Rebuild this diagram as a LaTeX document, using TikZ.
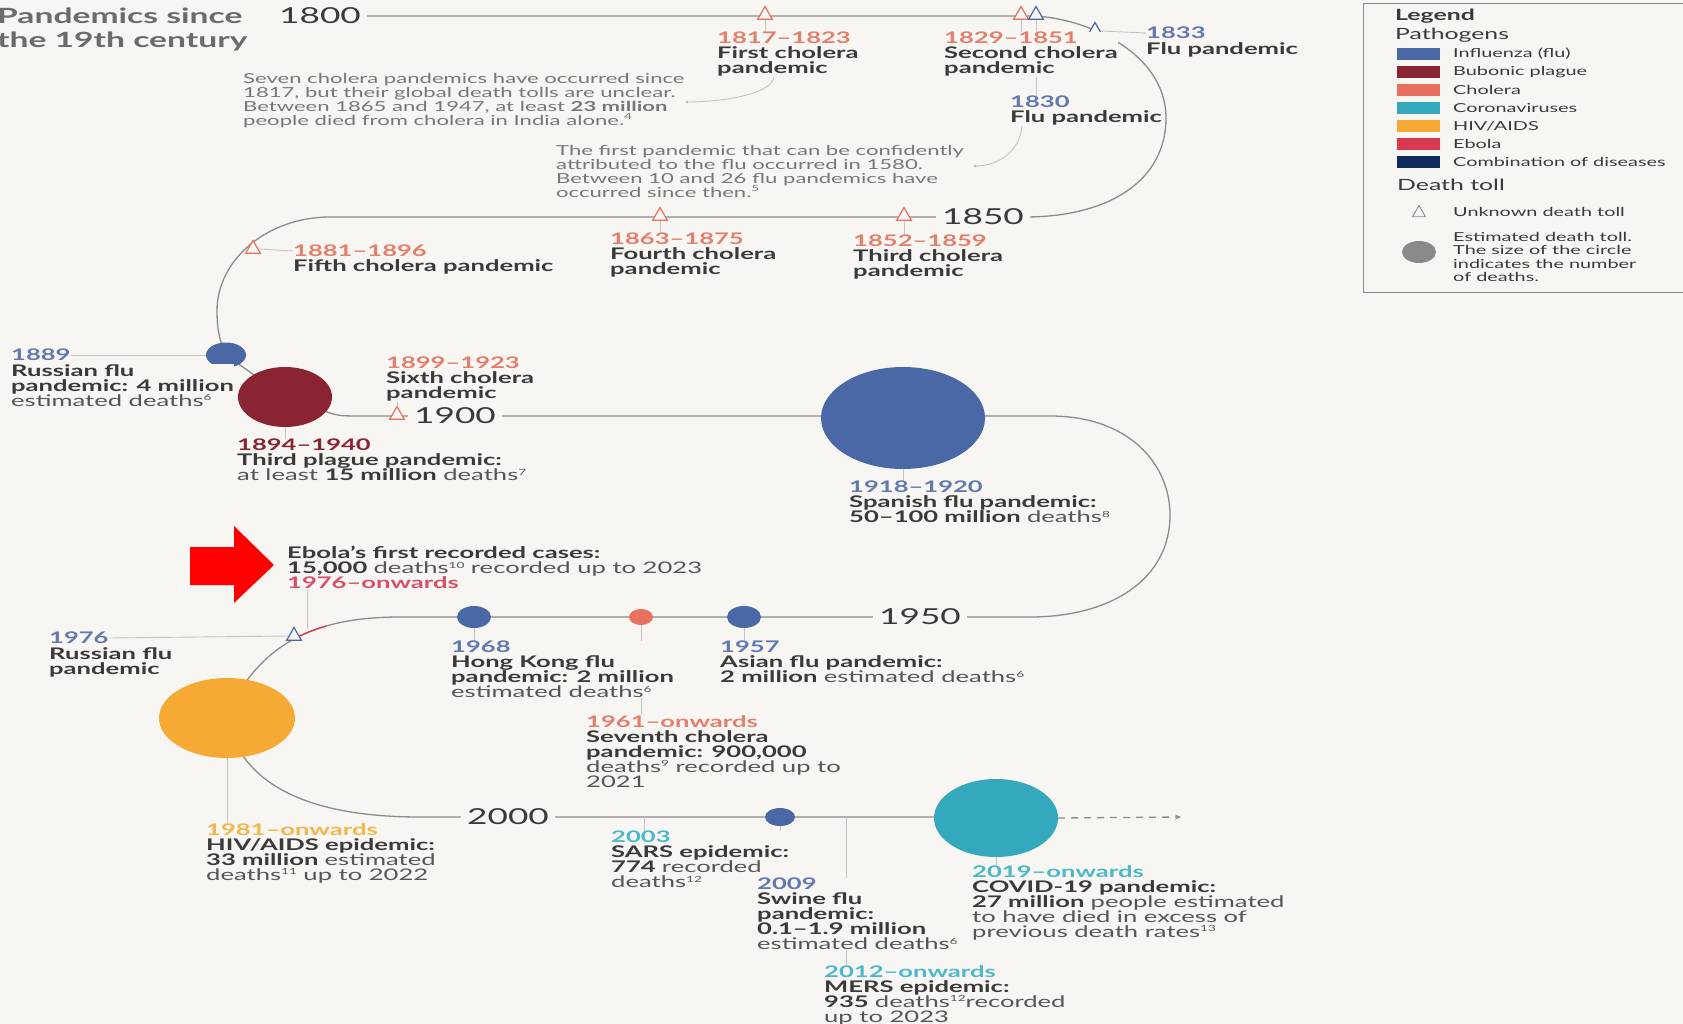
\documentclass[tikz,border=0pt]{standalone}
\usepackage{fontspec}
\setmainfont{Lato}[FakeStretch=1.6]
\usetikzlibrary{shapes.geometric,arrows.meta}
\pgfdeclarelayer{back}\pgfdeclarelayer{lines}
\pgfsetlayers{back,lines,main}
\definecolor{bgc}{HTML}{F8F6F2}
\definecolor{txt}{HTML}{3A3A3A}
\definecolor{rgc}{HTML}{555555}
\definecolor{cmtc}{HTML}{777777}
\definecolor{titc}{HTML}{6B6B6B}
\definecolor{linec}{HTML}{8C8C8C}
\definecolor{tickc}{HTML}{C4C4C4}
\definecolor{fluc}{HTML}{4B68A6}
\definecolor{fluyr}{HTML}{6179B0}
\definecolor{plac}{HTML}{8A2433}
\definecolor{cholc}{HTML}{E8705F}
\definecolor{cholyr}{HTML}{E47F6C}
\definecolor{corc}{HTML}{34A8BC}
\definecolor{coryr}{HTML}{4BB9C9}
\definecolor{hivc}{HTML}{F6A935}
\definecolor{hivyr}{HTML}{F4B54A}
\definecolor{ebc}{HTML}{D93A52}
\definecolor{ebyr}{HTML}{D6506A}
\definecolor{combc}{HTML}{0F2B5B}
\definecolor{leggray}{HTML}{8A8A8A}
\newcommand\lblfont{\fontsize{16}{15}\selectfont\bfseries\lineskiplimit=-20pt\relax}
\newcommand\cmtfont{\fontsize{13.8}{14}\selectfont\lineskiplimit=-20pt\relax}
\newcommand\yrfont{\fontsize{22}{24}\selectfont}
\newcommand\titfont{\fontsize{21}{24}\selectfont\bfseries\lineskiplimit=-20pt\relax}
\newcommand\legfont{\fontsize{12.4}{14}\selectfont\lineskiplimit=-20pt\relax}
\newcommand\lestfont{\fontsize{12.4}{13.4}\selectfont\lineskiplimit=-20pt\relax}
\newcommand\leghfont{\fontsize{15.5}{16}\selectfont}
\newcommand\yr[2]{{\color{#1}#2}}
\newcommand\rg[1]{{\mdseries\color{rgc}#1}}
\newcommand\sps[1]{\raisebox{5.5pt}{\fontsize{8.5}{8.5}\selectfont #1}}
\tikzset{
 lbl/.style={anchor=north west, align=left, inner sep=0pt, fill=bgc, text=txt, font=\lblfont},
 cmt/.style={anchor=north west, align=left, inner sep=0pt, text=cmtc, font=\cmtfont},
 yearlbl/.style={fill=bgc, inner xsep=6pt, inner ysep=0pt, text=txt, font=\yrfont},
 tri/.style={regular polygon, regular polygon sides=3, draw=#1, fill=bgc, line width=1.2pt, minimum size=17pt, inner sep=0pt},
 blob/.style={ellipse, fill=#1, inner sep=0pt},
 tline/.style={draw=linec, line width=1.3pt},
 tick/.style={draw=tickc, line width=0.9pt},
 ptr/.style={draw=tickc, line width=0.9pt},
 swatch/.style={fill=#1, minimum width=43pt, minimum height=12pt, inner sep=0pt},
 legtxt/.style={anchor=west, inner sep=0pt, text=txt, font=\legfont},
}
\begin{document}
\begin{tikzpicture}[x=1pt,y=-1pt]
\useasboundingbox (0,0) rectangle (1683,1024);
\begin{pgfonlayer}{back}
\fill[bgc] (0,0) rectangle (1683,1024);
\end{pgfonlayer}

% title
\node[anchor=north west, align=left, inner sep=0pt, text=titc, font=\titfont] (title) at (-3,8) {Pandemics since\\the 19th century};

% year markers on the line
\node[yearlbl] (y1800) at (320,16) {1800};
\node[yearlbl] (y1850) at (983,217) {1850};
\node[yearlbl] (y1900) at (455,416) {1900};
\node[yearlbl] (y1950) at (920,617) {1950};
\node[yearlbl] (y2000) at (508,817) {2000};

% triangles
\node[tri=cholc] (t1817) at (765,15) {};
\node[tri=cholc] (t1829) at (1021,15) {};
\node[tri=fluc] (t1830) at (1036,15) {};
\node[tri=fluc] (t1833) at (1095,31) {};
\node[tri=cholc] (t1881) at (253,249) {};
\node[tri=cholc] (t1863) at (660,216) {};
\node[tri=cholc] (t1852) at (904,216) {};
\node[tri=cholc] (t1899) at (397,415) {};
\node[tri=fluc] (t1976) at (294,636) {};

% circles
\node[blob=fluc, minimum width=40pt, minimum height=25pt] (c1889) at (226,355) {};
\node[blob=plac, minimum width=94pt, minimum height=60pt] (c1894) at (285,397) {};
\node[blob=fluc, minimum width=164pt, minimum height=102pt] (c1918) at (903,418) {};
\node[blob=fluc, minimum width=34pt, minimum height=22pt] (c1968) at (474,617) {};
\node[blob=cholc, minimum width=24pt, minimum height=16pt] (c1961) at (641,617) {};
\node[blob=fluc, minimum width=34pt, minimum height=22pt] (c1957) at (744,617) {};
\node[blob=hivc, minimum width=136pt, minimum height=80pt] (c1981) at (227,718) {};
\node[blob=fluc, minimum width=30pt, minimum height=18pt] (c2009) at (780,817) {};
\node[blob=corc, minimum width=124pt, minimum height=78pt] (c2019) at (996,818) {};

% comments
\node[cmt] (cm1) at (243,73) {Seven cholera pandemics have occurred since\\1817, but their global death tolls are unclear.\\Between 1865 and 1947, at least \textbf{23 million}\\people died from cholera in India alone.\sps{4}};
\node[cmt] (cm2) at (556,145) {The first pandemic that can be confidently\\attributed to the flu occurred in 1580.\\Between 10 and 26 flu pandemics have\\occurred since then.\sps{5}};

% labels
\node[lbl] (L1817) at (717,32) {\yr{cholyr}{1817–1823}\\First cholera\\pandemic};
\node[lbl] (L1829) at (944,32) {\yr{cholyr}{1829–1851}\\Second cholera\\pandemic};
\node[lbl] (L1830) at (1010,96) {\yr{fluyr}{1830}\\Flu pandemic};
\node[lbl, anchor=west] (y1833) at (1146,33) {\yr{fluyr}{1833}};
\node[lbl] (L1833) at ([yshift=-3pt]y1833.south west) {Flu pandemic};
\node[lbl, anchor=west] (y1881) at (293,251) {\yr{cholyr}{1881–1896}};
\node[lbl] (L1881) at ([yshift=-2pt]y1881.south west) {Fifth cholera pandemic};
\node[lbl] (L1863) at (610,233) {\yr{cholyr}{1863–1875}\\Fourth cholera\\pandemic};
\node[lbl] (L1852) at (853,235) {\yr{cholyr}{1852–1859}\\Third cholera\\pandemic};
\node[lbl, anchor=west] (y1889) at (11,355) {\yr{fluyr}{1889}};
\node[lbl] (L1889) at ([yshift=-3pt]y1889.south west) {Russian flu\\pandemic: 4 million\\\rg{estimated deaths\sps{6}}};
\node[lbl] (L1899) at (386,357) {\yr{cholyr}{1899–1923}\\Sixth cholera\\pandemic};
\node[lbl] (L1894) at (237,439) {\yr{plac}{1894–1940}\\Third plague pandemic:\\\rg{at least \textbf{\color{txt}15 million} deaths\sps{7}}};
\node[lbl] (L1918) at (849,481) {\yr{fluyr}{1918–1920}\\Spanish flu pandemic:\\50–100 million \rg{deaths\sps{8}}};
\node[lbl] (Lebola) at (287,546) {Ebola’s first recorded cases:\\15,000 \rg{deaths\sps{10} recorded up to 2023}\\\yr{ebyr}{1976–onwards}};
\node[lbl, anchor=west] (y1976) at (49,638) {\yr{fluyr}{1976}};
\node[lbl] (L1976) at ([yshift=-3pt]y1976.south west) {Russian flu\\pandemic};
\node[lbl] (L1968) at (451,641) {\yr{fluyr}{1968}\\Hong Kong flu\\pandemic: 2 million\\\rg{estimated deaths\sps{6}}};
\node[lbl] (L1957) at (720,641) {\yr{fluyr}{1957}\\Asian flu pandemic:\\2 million \rg{estimated deaths\sps{6}}};
\node[lbl] (L1961) at (586,715) {\yr{cholyr}{1961–onwards}\\Seventh cholera\\pandemic: 900,000\\\rg{deaths\sps{9} recorded up to}\\\rg{2021}};
\node[lbl] (L1981) at (206,823) {\yr{hivyr}{1981–onwards}\\HIV/AIDS epidemic:\\33 million \rg{estimated}\\\rg{deaths\sps{11} up to 2022}};
\node[lbl] (L2003) at (611,831) {\yr{coryr}{2003}\\SARS epidemic:\\774 \rg{recorded}\\\rg{deaths\sps{12}}};
\node[lbl] (L2009) at (757,878) {\yr{fluyr}{2009}\\Swine flu\\pandemic:\\0.1–1.9 million\\\rg{estimated deaths\sps{6}}};
\node[lbl] (L2012) at (824,965) {\yr{coryr}{2012–onwards}\\MERS epidemic:\\935 \rg{deaths\sps{12}recorded}\\\rg{up to 2023}};
\node[lbl] (L2019) at (972,865) {\yr{coryr}{2019–onwards}\\COVID-19 pandemic:\\27 million \rg{people estimated}\\\rg{to have died in excess of}\\\rg{previous death rates\sps{13}}};

% free ends
\coordinate (ebolaend) at (307,629);
\coordinate (sars) at (644,817);
\coordinate (mers) at (846,817);
\coordinate (dashend) at (1181,817);
\coordinate (p1) at (687,102);
\coordinate (p2) at (975,166);

% red arrow
\fill[red] (190,547) -- (234,547) -- (234,526) -- (274,565) -- (234,603) -- (234,585) -- (190,585) -- cycle;

% legend
\draw[leggray, line width=0.8pt] (1363,3) rectangle (1700,292);
\node[legtxt, font=\leghfont\bfseries] (lg) at (1395,16) {Legend};
\node[legtxt, font=\leghfont] (lpath) at (1395,35) {Pathogens};
\node[swatch=fluc] (s1) at (1418.5,54) {};
\node[swatch=plac] (s2) at (1418.5,72) {};
\node[swatch=cholc] (s3) at (1418.5,90) {};
\node[swatch=corc] (s4) at (1418.5,108) {};
\node[swatch=hivc] (s5) at (1418.5,126) {};
\node[swatch=ebc] (s6) at (1418.5,144) {};
\node[swatch=combc] (s7) at (1418.5,162) {};
\node[legtxt] (ls1) at (1453,54) {Influenza (flu)};
\node[legtxt] (ls2) at (1453,72) {Bubonic plague};
\node[legtxt] (ls3) at (1453,90) {Cholera};
\node[legtxt] (ls4) at (1453,108) {Coronaviruses};
\node[legtxt] (ls5) at (1453,126) {HIV/AIDS};
\node[legtxt] (ls6) at (1453,144) {Ebola};
\node[legtxt] (ls7) at (1453,162) {Combination of diseases};
\node[legtxt, font=\leghfont] (ldt) at (1397,185) {Death toll};
\node[tri=leggray, line width=0.9pt, minimum size=15pt] (ltri) at (1419,213) {};
\node[legtxt] (lunk) at (1453,212) {Unknown death toll};
\node[blob=leggray, minimum width=34pt, minimum height=22pt] (lcirc) at (1419,252) {};
\node[legtxt, anchor=north west, align=left, font=\lestfont] (lest) at (1453,232) {Estimated death toll.\\The size of the circle\\indicates the number\\of deaths.};

\begin{pgfonlayer}{lines}
\draw[tline] (360,16) -- (1030,16) .. controls (1080,16) and (1166,50) .. (1166,118)
  .. controls (1166,180) and (1110,217) .. (1025,217) -- (330,217)
  .. controls (268,217) and (217,259) .. (217,311)
  .. controls (217,330) and (220,342) .. (226,355) -- (285,397) -- (330,413)
  .. controls (340,416) .. (370,416) -- (1050,416)
  .. controls (1130,416) and (1170,465) .. (1170,515)
  .. controls (1170,580) and (1110,617) .. (1030,617) -- (400,617)
  .. controls (320,617) and (260,640) .. (226,717)
  .. controls (240,780) and (300,817) .. (420,817) -- (934,817);
\begin{scope}
\clip (295,600) rectangle (326,645);
\draw[ebc, line width=1.3pt] (400,617) .. controls (320,617) and (260,640) .. (226,717);
\end{scope}
\draw[tline, dash pattern=on 7pt off 6pt, -{Stealth[length=6pt,width=5pt]}] (c2019.east) -- (dashend);
% ticks
\draw[tick] (t1817.south) -- (t1817.south |- L1817.north);
\draw[tick] (t1829.south) -- (t1829.south |- L1829.north);
\draw[tick] (t1830.south) -- (t1830.south |- L1830.north);
\draw[tick] (t1833.east) -- (y1833.west);
\draw[tick] (t1881.east) -- (y1881.west);
\draw[tick] (t1863.south) -- (t1863.south |- L1863.north);
\draw[tick] (t1852.south) -- (t1852.south |- L1852.north);
\draw[tick] (y1889.east) -- (c1889.west);
\draw[tick] (t1899.north) -- (t1899.north |- L1899.south);
\draw[tick] (c1894.south) -- (c1894.south |- L1894.north);
\draw[tick] (c1918.south) -- (c1918.south |- L1918.north);
\draw[tick] (ebolaend |- Lebola.south) -- (ebolaend);
\draw[tick] (y1976.east) -- (t1976.west);
\draw[tick] (c1968.south) -- (c1968.south |- L1968.north);
\draw[tick] (c1961.south) -- (c1961.south |- L1961.north);
\draw[tick] (c1957.south) -- (c1957.south |- L1957.north);
\draw[tick] (c1981.south) -- (c1981.south |- L1981.north);
\draw[tick] (sars) -- (sars |- L2003.north);
\draw[tick] (c2009.south) -- (c2009.south |- L2009.north);
\draw[tick] (mers) -- (mers |- L2012.north);
\draw[tick] (c2019.south) -- (c2019.south |- L2019.north);
% pointers
\draw[ptr] ([xshift=-14pt]L1817.south) .. controls (772,95) and (720,102) .. (p1);
\fill[tickc] (p1) circle (1.6pt);
\draw[ptr] ([xshift=12pt]L1830.south west) .. controls (1020,150) and (1000,166) .. (p2);
\fill[tickc] (p2) circle (1.6pt);
\end{pgfonlayer}
\end{tikzpicture}
\end{document}
